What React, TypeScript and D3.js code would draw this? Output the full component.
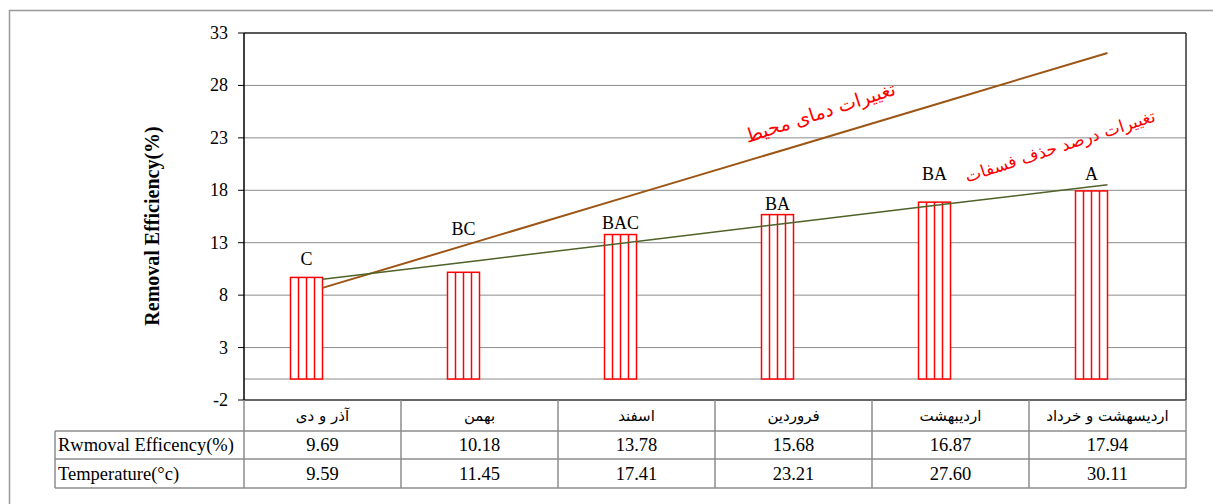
import React from 'react';
import * as d3 from 'd3';

// months (Persian calendar)
const categories = ['آذر و دی', 'بهمن', 'اسفند', 'فروردین', 'اردیبهشت', 'اردیسهشت و خرداد'];
const efficiency = [9.69, 10.18, 13.78, 15.68, 16.87, 17.94];
const temperature = [9.59, 11.45, 17.41, 23.21, 27.6, 30.11];
// significance letters above bars, and the level (in axis units) where each one sits
const letters = ['C', 'BC', 'BAC', 'BA', 'BA', 'A'];
const letterLevel = [11.4, 14.3, 14.9, 16.7, 19.6, 19.6];
const yTicks = [-2, 3, 8, 13, 18, 23, 28, 33];
const rowLabels = ['Rwmoval Efficency(%)', 'Temperature(°c)'];

const W = 1213;
const H = 504;
const serif = '"Liberation Serif", "Times New Roman", serif';
const persian = '"DejaVu Sans", sans-serif';

// Excel style linear trendline over x = 1..n
const trend = (vals: number[]) => {
  const xs = vals.map((_, i) => i + 1);
  const mx = d3.mean(xs)!;
  const my = d3.mean(vals)!;
  const sxy = d3.sum(xs, (x, i) => (x - mx) * (vals[i] - my));
  const sxx = d3.sum(xs, (x) => (x - mx) ** 2);
  const slope = sxy / sxx;
  return xs.map((x) => my + slope * (x - mx));
};

const App = () => {
  const left = 244;
  const right = 1186;
  const top = 33;
  const bottom = 400;

  const x = d3.scaleBand<string>().domain(categories).range([left, right]).padding(0);
  const sub = d3.scaleBand<string>().domain(['eff', 'temp']).range([x.bandwidth() / 2 - 32, x.bandwidth() / 2 + 32]);
  const y = d3.scaleLinear().domain([-2, 33]).range([bottom, top]);

  const cx = (c: string) => x(c)! + x.bandwidth() / 2;
  const line = d3.line<number>().x((_, i) => cx(categories[i])).y((d) => y(d));

  const effTrend = trend(efficiency);
  const tempTrend = trend(temperature);

  const rowH = [31, 28, 29];
  const rowY = [bottom, bottom + rowH[0], bottom + rowH[0] + rowH[1], bottom + rowH[0] + rowH[1] + rowH[2]];
  const tableLeft = 55;
  const grid = '#8c8c8c';

  return (
    <svg width={W} height={H} style={{ position: 'absolute', left: 0, top: 0, background: '#fff' }}>
      {/* outer frame */}
      <path d={`M9.5,${H} V10.5 H${W}`} fill="none" stroke="#999" strokeWidth={1.5} />

      {/* gridlines */}
      {yTicks.concat([0]).filter((t) => t !== 33 && t !== -2).map((t) => (
        <line key={t} x1={left} x2={right} y1={y(t)} y2={y(t)} stroke={grid} strokeWidth={1} />
      ))}

      {/* bars */}
      {categories.map((c, i) => {
        const bx = x(c)! + sub('eff')!;
        const bw = sub.bandwidth();
        const by = y(efficiency[i]);
        const bh = y(0) - by;
        const stripes = d3.range(1, 4).map((k) => bx + (bw * k) / 4);
        return (
          <g key={c}>
            <rect x={bx} y={by} width={bw} height={bh} fill="#fff" stroke="#ff0000" strokeWidth={1.5} />
            {stripes.map((sx) => (
              <line key={sx} x1={sx} x2={sx} y1={by} y2={by + bh} stroke="#ff0000" strokeWidth={1.5} />
            ))}
            <text x={bx + bw / 2} y={y(letterLevel[i])} textAnchor="middle" dominantBaseline="central"
              fontFamily={serif} fontSize={18} fill="#000">{letters[i]}</text>
          </g>
        );
      })}

      {/* trend lines */}
      <path d={line(tempTrend)!} fill="none" stroke="#9c5514" strokeWidth={2} />
      <path d={line(effTrend)!} fill="none" stroke="#4f6228" strokeWidth={1.5} />

      {/* annotations */}
      <text transform="translate(820,112) rotate(-18)" textAnchor="middle" dominantBaseline="central"
        fontFamily={persian} fontSize={19} fill="#ff0000">تغییرات دمای محیط</text>
      <text transform="translate(1060,146) rotate(-18)" textAnchor="middle" dominantBaseline="central"
        fontFamily={persian} fontSize={17} fill="#ff0000">تغییرات درصد حذف فسفات</text>

      {/* plot frame */}
      <line x1={left} x2={right} y1={top} y2={top} stroke="#222" strokeWidth={1.5} />
      <line x1={right} x2={right} y1={top} y2={bottom} stroke="#333" strokeWidth={1.5} />
      <line x1={left} x2={right} y1={bottom} y2={bottom} stroke="#333" strokeWidth={1.5} />
      <line x1={left} x2={left} y1={top} y2={bottom} stroke="#000" strokeWidth={1.5} />

      {/* y ticks */}
      {yTicks.map((t) => (
        <g key={t}>
          <line x1={left - 6} x2={left} y1={y(t)} y2={y(t)} stroke="#000" strokeWidth={1} />
          <text x={left - 16} y={y(t)} textAnchor="end" dominantBaseline="central"
            fontFamily={serif} fontSize={18} fill="#000">{t}</text>
        </g>
      ))}
      <text transform="translate(152,226) rotate(-90)" textAnchor="middle"
        dominantBaseline="central" fontFamily={serif} fontSize={20} fontWeight="bold" fill="#000">
        Removal Efficiency(%)
      </text>

      {/* data table */}
      <g stroke={grid} strokeWidth={1.5} fill="none">
        <line x1={left} x2={left} y1={rowY[0]} y2={rowY[1]} />
        <line x1={tableLeft} x2={right} y1={rowY[1]} y2={rowY[1]} />
        <line x1={tableLeft} x2={right} y1={rowY[2]} y2={rowY[2]} />
        <line x1={tableLeft} x2={right} y1={rowY[3]} y2={rowY[3]} />
        <line x1={tableLeft} x2={tableLeft} y1={rowY[1]} y2={rowY[3]} />
        {categories.map((c) => (
          <line key={c} x1={x(c)! + x.bandwidth()} x2={x(c)! + x.bandwidth()} y1={rowY[0]} y2={rowY[3]} />
        ))}
        <line x1={left} x2={left} y1={rowY[1]} y2={rowY[3]} />
      </g>
      {categories.map((c, i) => (
        <g key={c}>
          <text x={cx(c)} y={(rowY[0] + rowY[1]) / 2} textAnchor="middle" dominantBaseline="central"
            fontFamily={persian} fontSize={15} fill="#000">{c}</text>
          <text x={cx(c)} y={(rowY[1] + rowY[2]) / 2} textAnchor="middle" dominantBaseline="central"
            fontFamily={serif} fontSize={18.5} fill="#000">{efficiency[i].toFixed(2)}</text>
          <text x={cx(c)} y={(rowY[2] + rowY[3]) / 2} textAnchor="middle" dominantBaseline="central"
            fontFamily={serif} fontSize={18.5} fill="#000">{temperature[i].toFixed(2)}</text>
        </g>
      ))}
      {rowLabels.map((r, i) => (
        <text key={r} x={tableLeft + 3} y={(rowY[i + 1] + rowY[i + 2]) / 2} dominantBaseline="central"
          fontFamily={serif} fontSize={18.5} fill="#000">{r}</text>
      ))}
    </svg>
  );
};

export default App;
